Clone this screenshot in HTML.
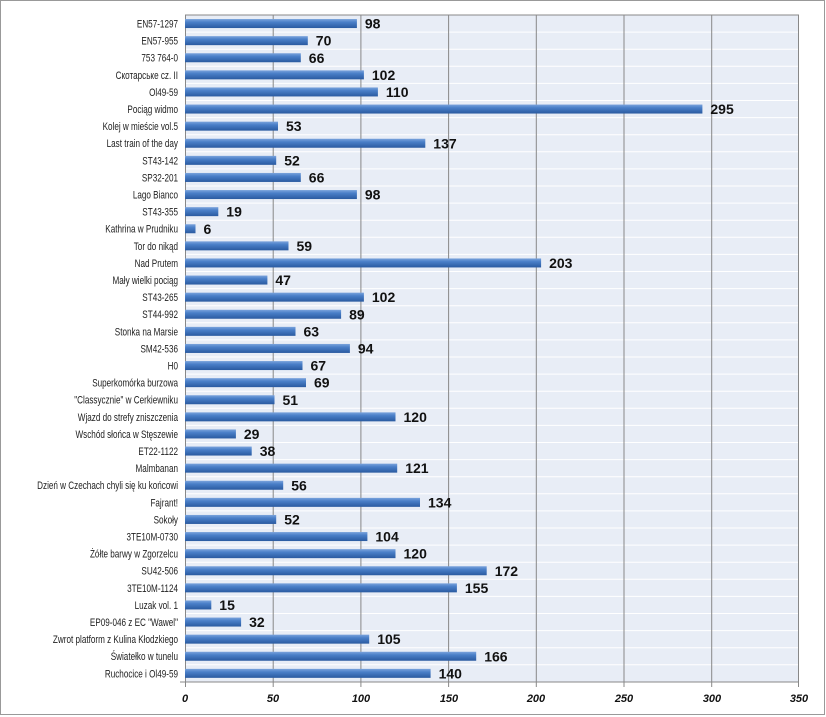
<!DOCTYPE html>
<html><head><meta charset="utf-8"><style>
html,body{margin:0;padding:0;background:#fff}
svg{display:block}
.l{font-family:"Liberation Sans",sans-serif;font-size:11px;fill:#222;text-anchor:end}
.v{font-family:"Liberation Sans",sans-serif;font-size:14px;font-weight:bold;fill:#111}
.t{font-family:"Liberation Sans",sans-serif;font-size:11px;font-weight:bold;font-style:italic;fill:#111;text-anchor:middle}
</style></head><body>
<svg width="826" height="717" viewBox="0 0 826 717" xmlns="http://www.w3.org/2000/svg">
<defs><linearGradient id="g" x1="0" y1="0" x2="0" y2="1">
<stop offset="0" stop-color="#7aa3dc"/><stop offset="0.35" stop-color="#4a7fc8"/><stop offset="1" stop-color="#2a5aa0"/></linearGradient></defs>
<rect x="0.5" y="0.5" width="824" height="714" fill="#fff" stroke="#999"/>
<rect x="185" y="15" width="614" height="667" fill="#e8edf6"/>
<g stroke="#fff" stroke-width="1">
<path d="M185 32.1H799M185 49.2H799M185 66.3H799M185 83.4H799M185 100.5H799M185 117.6H799M185 134.7H799M185 151.8H799M185 168.9H799M185 186H799M185 203.1H799M185 220.2H799M185 237.3H799M185 254.4H799M185 271.5H799M185 288.6H799M185 305.7H799M185 322.8H799M185 339.9H799M185 357H799M185 374.1H799M185 391.2H799M185 408.3H799M185 425.4H799M185 442.5H799M185 459.6H799M185 476.7H799M185 493.8H799M185 510.9H799M185 528H799M185 545.1H799M185 562.2H799M185 579.3H799M185 596.4H799M185 613.5H799M185 630.6H799M185 647.7H799M185 664.8H799"/>
</g>
<g stroke="#888" stroke-width="1">
<path d="M185.5 15V687M273.2 15V687M360.9 15V687M448.6 15V687M536.3 15V687M624 15V687M711.7 15V687M798.5 15V687M185 15H799M180 682H799"/>
</g>
<g class="t">
<text x="185" y="702">0</text><text x="273" y="702">50</text><text x="361" y="702">100</text><text x="449" y="702">150</text><text x="536" y="702">200</text><text x="624" y="702">250</text><text x="712" y="702">300</text><text x="799" y="702">350</text>
</g>
<g class="l" transform="matrix(0.74 0 0 1 46.28 0)">
<text x="178" y="27.5">EN57-1297</text>
<text x="178" y="44.6">EN57-955</text>
<text x="178" y="61.7">753 764-0</text>
<text x="178" y="78.8">Скотарське cz. II</text>
<text x="178" y="95.9">Ol49-59</text>
<text x="178" y="113">Pociąg widmo</text>
<text x="178" y="130.1">Kolej w mieście vol.5</text>
<text x="178" y="147.2">Last train of the day</text>
<text x="178" y="164.3">ST43-142</text>
<text x="178" y="181.4">SP32-201</text>
<text x="178" y="198.5">Lago Bianco</text>
<text x="178" y="215.6">ST43-355</text>
<text x="178" y="232.7">Kathrina w Prudniku</text>
<text x="178" y="249.8">Tor do nikąd</text>
<text x="178" y="266.9">Nad Prutem</text>
<text x="178" y="284">Mały wielki pociąg</text>
<text x="178" y="301.1">ST43-265</text>
<text x="178" y="318.2">ST44-992</text>
<text x="178" y="335.3">Stonka na Marsie</text>
<text x="178" y="352.4">SM42-536</text>
<text x="178" y="369.5">H0</text>
<text x="178" y="386.6">Superkomórka burzowa</text>
<text x="178" y="403.7">"Classycznie" w Cerkiewniku</text>
<text x="178" y="420.8">Wjazd do strefy zniszczenia</text>
<text x="178" y="437.9">Wschód słońca w Stęszewie</text>
<text x="178" y="455">ET22-1122</text>
<text x="178" y="472.1">Malmbanan</text>
<text x="178" y="489.2">Dzień w Czechach chyli się ku końcowi</text>
<text x="178" y="506.3">Fajrant!</text>
<text x="178" y="523.4">Sokoły</text>
<text x="178" y="540.5">3TE10M-0730</text>
<text x="178" y="557.6">Żółte barwy w Zgorzelcu</text>
<text x="178" y="574.7">SU42-506</text>
<text x="178" y="591.8">3TE10M-1124</text>
<text x="178" y="608.9">Luzak vol. 1</text>
<text x="178" y="626">EP09-046 z EC "Wawel"</text>
<text x="178" y="643.1">Zwrot platform z Kulina Kłodzkiego</text>
<text x="178" y="660.2">Światełko w tunelu</text>
<text x="178" y="677.3">Ruchocice i Ol49-59</text>
</g>
<g>
<g transform="translate(0,23.55)"><rect x="185" y="-4.5" width="171.9" height="9" fill="url(#g)"/><text class="v" x="364.9" y="5">98</text></g>
<g transform="translate(0,40.65)"><rect x="185" y="-4.5" width="122.8" height="9" fill="url(#g)"/><text class="v" x="315.8" y="5">70</text></g>
<g transform="translate(0,57.75)"><rect x="185" y="-4.5" width="115.8" height="9" fill="url(#g)"/><text class="v" x="308.8" y="5">66</text></g>
<g transform="translate(0,74.85)"><rect x="185" y="-4.5" width="178.9" height="9" fill="url(#g)"/><text class="v" x="371.9" y="5">102</text></g>
<g transform="translate(0,91.95)"><rect x="185" y="-4.5" width="192.9" height="9" fill="url(#g)"/><text class="v" x="385.9" y="5">110</text></g>
<g transform="translate(0,109.05)"><rect x="185" y="-4.5" width="517.4" height="9" fill="url(#g)"/><text class="v" x="710.4" y="5">295</text></g>
<g transform="translate(0,126.15)"><rect x="185" y="-4.5" width="93" height="9" fill="url(#g)"/><text class="v" x="286" y="5">53</text></g>
<g transform="translate(0,143.25)"><rect x="185" y="-4.5" width="240.3" height="9" fill="url(#g)"/><text class="v" x="433.3" y="5">137</text></g>
<g transform="translate(0,160.35)"><rect x="185" y="-4.5" width="91.2" height="9" fill="url(#g)"/><text class="v" x="284.2" y="5">52</text></g>
<g transform="translate(0,177.45)"><rect x="185" y="-4.5" width="115.8" height="9" fill="url(#g)"/><text class="v" x="308.8" y="5">66</text></g>
<g transform="translate(0,194.55)"><rect x="185" y="-4.5" width="171.9" height="9" fill="url(#g)"/><text class="v" x="364.9" y="5">98</text></g>
<g transform="translate(0,211.65)"><rect x="185" y="-4.5" width="33.3" height="9" fill="url(#g)"/><text class="v" x="226.3" y="5">19</text></g>
<g transform="translate(0,228.75)"><rect x="185" y="-4.5" width="10.5" height="9" fill="url(#g)"/><text class="v" x="203.5" y="5">6</text></g>
<g transform="translate(0,245.85)"><rect x="185" y="-4.5" width="103.5" height="9" fill="url(#g)"/><text class="v" x="296.5" y="5">59</text></g>
<g transform="translate(0,262.95)"><rect x="185" y="-4.5" width="356.1" height="9" fill="url(#g)"/><text class="v" x="549.1" y="5">203</text></g>
<g transform="translate(0,280.05)"><rect x="185" y="-4.5" width="82.4" height="9" fill="url(#g)"/><text class="v" x="275.4" y="5">47</text></g>
<g transform="translate(0,297.15)"><rect x="185" y="-4.5" width="178.9" height="9" fill="url(#g)"/><text class="v" x="371.9" y="5">102</text></g>
<g transform="translate(0,314.25)"><rect x="185" y="-4.5" width="156.1" height="9" fill="url(#g)"/><text class="v" x="349.1" y="5">89</text></g>
<g transform="translate(0,331.35)"><rect x="185" y="-4.5" width="110.5" height="9" fill="url(#g)"/><text class="v" x="303.5" y="5">63</text></g>
<g transform="translate(0,348.45)"><rect x="185" y="-4.5" width="164.9" height="9" fill="url(#g)"/><text class="v" x="357.9" y="5">94</text></g>
<g transform="translate(0,365.55)"><rect x="185" y="-4.5" width="117.5" height="9" fill="url(#g)"/><text class="v" x="310.5" y="5">67</text></g>
<g transform="translate(0,382.65)"><rect x="185" y="-4.5" width="121" height="9" fill="url(#g)"/><text class="v" x="314" y="5">69</text></g>
<g transform="translate(0,399.75)"><rect x="185" y="-4.5" width="89.5" height="9" fill="url(#g)"/><text class="v" x="282.5" y="5">51</text></g>
<g transform="translate(0,416.85)"><rect x="185" y="-4.5" width="210.5" height="9" fill="url(#g)"/><text class="v" x="403.5" y="5">120</text></g>
<g transform="translate(0,433.95)"><rect x="185" y="-4.5" width="50.9" height="9" fill="url(#g)"/><text class="v" x="243.9" y="5">29</text></g>
<g transform="translate(0,451.05)"><rect x="185" y="-4.5" width="66.7" height="9" fill="url(#g)"/><text class="v" x="259.7" y="5">38</text></g>
<g transform="translate(0,468.15)"><rect x="185" y="-4.5" width="212.2" height="9" fill="url(#g)"/><text class="v" x="405.2" y="5">121</text></g>
<g transform="translate(0,485.25)"><rect x="185" y="-4.5" width="98.2" height="9" fill="url(#g)"/><text class="v" x="291.2" y="5">56</text></g>
<g transform="translate(0,502.35)"><rect x="185" y="-4.5" width="235" height="9" fill="url(#g)"/><text class="v" x="428" y="5">134</text></g>
<g transform="translate(0,519.45)"><rect x="185" y="-4.5" width="91.2" height="9" fill="url(#g)"/><text class="v" x="284.2" y="5">52</text></g>
<g transform="translate(0,536.55)"><rect x="185" y="-4.5" width="182.4" height="9" fill="url(#g)"/><text class="v" x="375.4" y="5">104</text></g>
<g transform="translate(0,553.65)"><rect x="185" y="-4.5" width="210.5" height="9" fill="url(#g)"/><text class="v" x="403.5" y="5">120</text></g>
<g transform="translate(0,570.75)"><rect x="185" y="-4.5" width="301.7" height="9" fill="url(#g)"/><text class="v" x="494.7" y="5">172</text></g>
<g transform="translate(0,587.85)"><rect x="185" y="-4.5" width="271.9" height="9" fill="url(#g)"/><text class="v" x="464.9" y="5">155</text></g>
<g transform="translate(0,604.95)"><rect x="185" y="-4.5" width="26.3" height="9" fill="url(#g)"/><text class="v" x="219.3" y="5">15</text></g>
<g transform="translate(0,622.05)"><rect x="185" y="-4.5" width="56.1" height="9" fill="url(#g)"/><text class="v" x="249.1" y="5">32</text></g>
<g transform="translate(0,639.15)"><rect x="185" y="-4.5" width="184.2" height="9" fill="url(#g)"/><text class="v" x="377.2" y="5">105</text></g>
<g transform="translate(0,656.25)"><rect x="185" y="-4.5" width="291.2" height="9" fill="url(#g)"/><text class="v" x="484.2" y="5">166</text></g>
<g transform="translate(0,673.35)"><rect x="185" y="-4.5" width="245.6" height="9" fill="url(#g)"/><text class="v" x="438.6" y="5">140</text></g>
</g>
</svg>
</body></html>
